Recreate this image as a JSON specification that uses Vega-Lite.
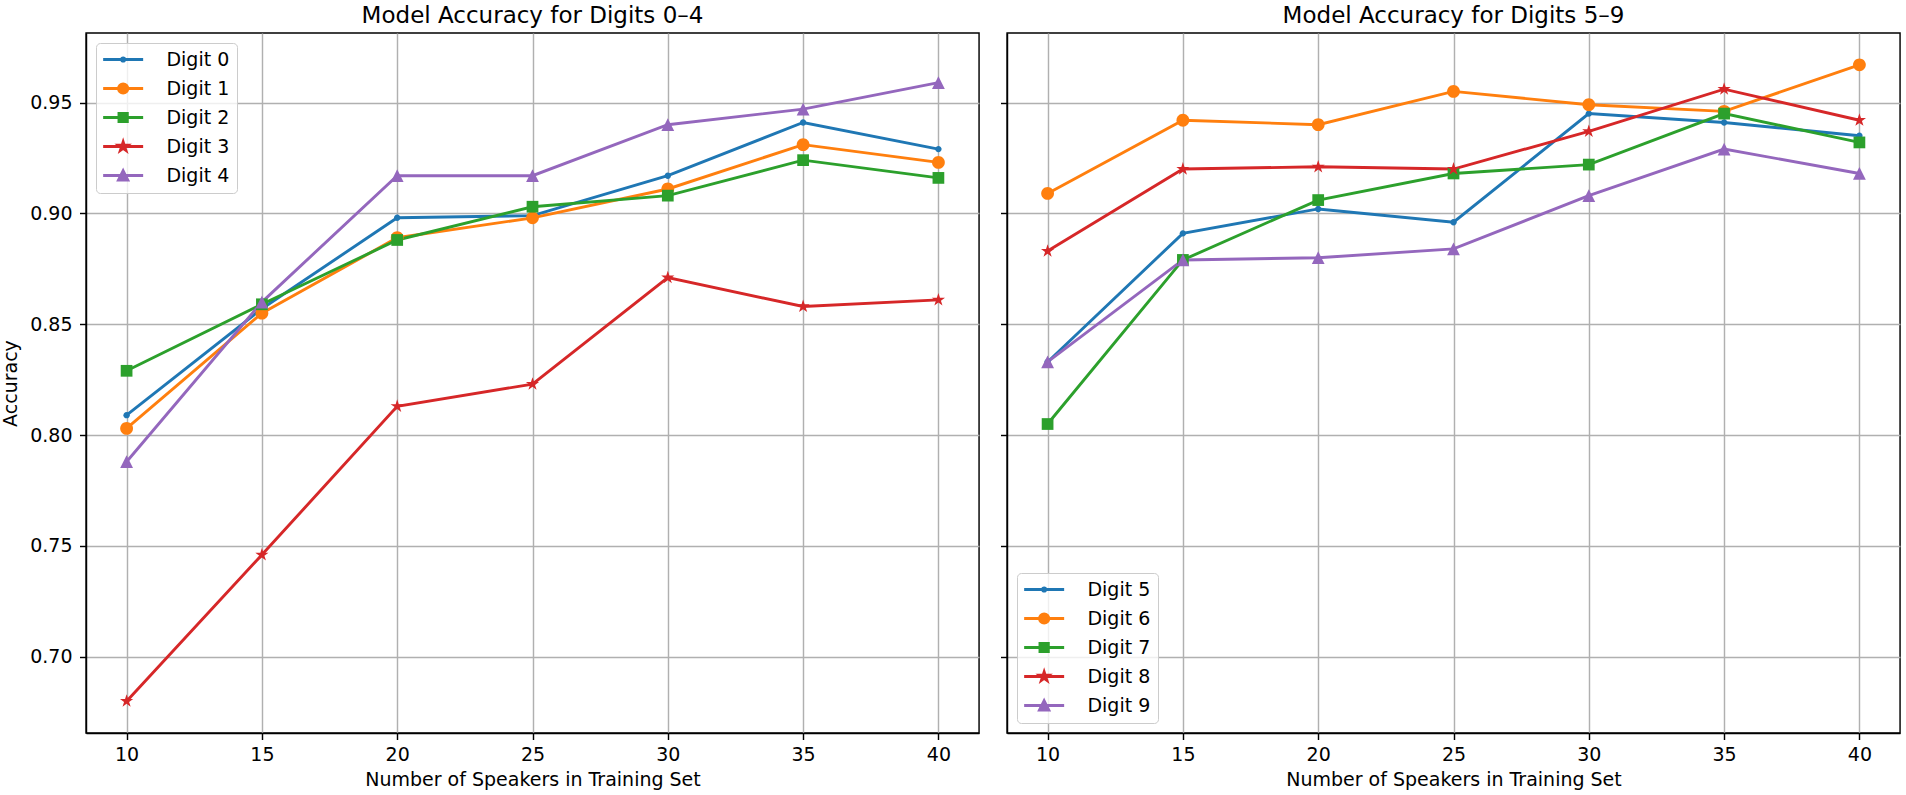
{
  "$schema": "https://vega.github.io/schema/vega-lite/v6.json",
  "background": "white",
  "padding": {"left": 0, "top": 4, "right": 2, "bottom": 2},
  "config": {
    "font": "DejaVu Sans",
    "view": {"stroke": "black", "strokeWidth": 1.44},
    "axis": {
      "labelFont": "DejaVu Sans", "titleFont": "DejaVu Sans",
      "labelFontSize": 19, "titleFontSize": 19, "titleFontWeight": "normal",
      "labelColor": "black", "titleColor": "black",
      "tickColor": "black", "domainColor": "black",
      "tickWidth": 1.44, "domainWidth": 1.44, "tickSize": 6.5,
      "gridColor": "#b0b0b0", "gridWidth": 1.44, "gridOpacity": 1,
      "labelFlush": false
    },
    "axisX": {"labelPadding": 5.5, "titlePadding": 6},
    "axisY": {"labelPadding": 7.5, "titlePadding": 9},
    "title": {"font": "DejaVu Sans", "fontSize": 23, "fontWeight": "normal", "color": "black", "offset": 5, "anchor": "middle"},
    "legend": {
      "labelFont": "DejaVu Sans", "labelFontSize": 19, "labelColor": "black",
      "fillColor": "rgba(255,255,255,0.8)", "strokeColor": "#cccccc", "cornerRadius": 4,
      "padding": 7, "rowPadding": 8, "labelOffset": 33.8, "symbolOffset": 10.65,
      "symbolSize": 256, "symbolStrokeWidth": 2.9, "symbolOpacity": 1
    }
  },
  "datasets": {
    "acc": [
      {"panel": "L", "digit": "Digit 0", "x": 10, "acc": 0.809},
      {"panel": "L", "digit": "Digit 0", "x": 15, "acc": 0.857},
      {"panel": "L", "digit": "Digit 0", "x": 20, "acc": 0.898},
      {"panel": "L", "digit": "Digit 0", "x": 25, "acc": 0.899},
      {"panel": "L", "digit": "Digit 0", "x": 30, "acc": 0.917},
      {"panel": "L", "digit": "Digit 0", "x": 35, "acc": 0.941},
      {"panel": "L", "digit": "Digit 0", "x": 40, "acc": 0.929},
      {"panel": "L", "digit": "Digit 1", "x": 10, "acc": 0.803},
      {"panel": "L", "digit": "Digit 1", "x": 15, "acc": 0.855},
      {"panel": "L", "digit": "Digit 1", "x": 20, "acc": 0.889},
      {"panel": "L", "digit": "Digit 1", "x": 25, "acc": 0.898},
      {"panel": "L", "digit": "Digit 1", "x": 30, "acc": 0.911},
      {"panel": "L", "digit": "Digit 1", "x": 35, "acc": 0.931},
      {"panel": "L", "digit": "Digit 1", "x": 40, "acc": 0.923},
      {"panel": "L", "digit": "Digit 2", "x": 10, "acc": 0.829},
      {"panel": "L", "digit": "Digit 2", "x": 15, "acc": 0.859},
      {"panel": "L", "digit": "Digit 2", "x": 20, "acc": 0.888},
      {"panel": "L", "digit": "Digit 2", "x": 25, "acc": 0.903},
      {"panel": "L", "digit": "Digit 2", "x": 30, "acc": 0.908},
      {"panel": "L", "digit": "Digit 2", "x": 35, "acc": 0.924},
      {"panel": "L", "digit": "Digit 2", "x": 40, "acc": 0.916},
      {"panel": "L", "digit": "Digit 3", "x": 10, "acc": 0.680},
      {"panel": "L", "digit": "Digit 3", "x": 15, "acc": 0.746},
      {"panel": "L", "digit": "Digit 3", "x": 20, "acc": 0.813},
      {"panel": "L", "digit": "Digit 3", "x": 25, "acc": 0.823},
      {"panel": "L", "digit": "Digit 3", "x": 30, "acc": 0.871},
      {"panel": "L", "digit": "Digit 3", "x": 35, "acc": 0.858},
      {"panel": "L", "digit": "Digit 3", "x": 40, "acc": 0.861},
      {"panel": "L", "digit": "Digit 4", "x": 10, "acc": 0.788},
      {"panel": "L", "digit": "Digit 4", "x": 15, "acc": 0.860},
      {"panel": "L", "digit": "Digit 4", "x": 20, "acc": 0.917},
      {"panel": "L", "digit": "Digit 4", "x": 25, "acc": 0.917},
      {"panel": "L", "digit": "Digit 4", "x": 30, "acc": 0.940},
      {"panel": "L", "digit": "Digit 4", "x": 35, "acc": 0.947},
      {"panel": "L", "digit": "Digit 4", "x": 40, "acc": 0.959},
      {"panel": "R", "digit": "Digit 5", "x": 10, "acc": 0.833},
      {"panel": "R", "digit": "Digit 5", "x": 15, "acc": 0.891},
      {"panel": "R", "digit": "Digit 5", "x": 20, "acc": 0.902},
      {"panel": "R", "digit": "Digit 5", "x": 25, "acc": 0.896},
      {"panel": "R", "digit": "Digit 5", "x": 30, "acc": 0.945},
      {"panel": "R", "digit": "Digit 5", "x": 35, "acc": 0.941},
      {"panel": "R", "digit": "Digit 5", "x": 40, "acc": 0.935},
      {"panel": "R", "digit": "Digit 6", "x": 10, "acc": 0.909},
      {"panel": "R", "digit": "Digit 6", "x": 15, "acc": 0.942},
      {"panel": "R", "digit": "Digit 6", "x": 20, "acc": 0.940},
      {"panel": "R", "digit": "Digit 6", "x": 25, "acc": 0.955},
      {"panel": "R", "digit": "Digit 6", "x": 30, "acc": 0.949},
      {"panel": "R", "digit": "Digit 6", "x": 35, "acc": 0.946},
      {"panel": "R", "digit": "Digit 6", "x": 40, "acc": 0.967},
      {"panel": "R", "digit": "Digit 7", "x": 10, "acc": 0.805},
      {"panel": "R", "digit": "Digit 7", "x": 15, "acc": 0.879},
      {"panel": "R", "digit": "Digit 7", "x": 20, "acc": 0.906},
      {"panel": "R", "digit": "Digit 7", "x": 25, "acc": 0.918},
      {"panel": "R", "digit": "Digit 7", "x": 30, "acc": 0.922},
      {"panel": "R", "digit": "Digit 7", "x": 35, "acc": 0.945},
      {"panel": "R", "digit": "Digit 7", "x": 40, "acc": 0.932},
      {"panel": "R", "digit": "Digit 8", "x": 10, "acc": 0.883},
      {"panel": "R", "digit": "Digit 8", "x": 15, "acc": 0.920},
      {"panel": "R", "digit": "Digit 8", "x": 20, "acc": 0.921},
      {"panel": "R", "digit": "Digit 8", "x": 25, "acc": 0.920},
      {"panel": "R", "digit": "Digit 8", "x": 30, "acc": 0.937},
      {"panel": "R", "digit": "Digit 8", "x": 35, "acc": 0.956},
      {"panel": "R", "digit": "Digit 8", "x": 40, "acc": 0.942},
      {"panel": "R", "digit": "Digit 9", "x": 10, "acc": 0.833},
      {"panel": "R", "digit": "Digit 9", "x": 15, "acc": 0.879},
      {"panel": "R", "digit": "Digit 9", "x": 20, "acc": 0.880},
      {"panel": "R", "digit": "Digit 9", "x": 25, "acc": 0.884},
      {"panel": "R", "digit": "Digit 9", "x": 30, "acc": 0.908},
      {"panel": "R", "digit": "Digit 9", "x": 35, "acc": 0.929},
      {"panel": "R", "digit": "Digit 9", "x": 40, "acc": 0.918}
    ]
  },
  "data": {"name": "acc"},
  "spacing": 19,
  "hconcat": [
    {
      "width": 893,
      "height": 700,
      "title": {"text": "Model Accuracy for Digits 0–4"},
      "transform": [{"filter": "datum.panel === 'L'"}],
      "encoding": {
        "x": {"field": "x", "type": "quantitative",
              "scale": {"domain": [8.5, 41.5], "nice": false, "zero": false},
              "axis": {"values": [10, 15, 20, 25, 30, 35, 40], "title": "Number of Speakers in Training Set", "grid": true}},
        "y": {"field": "acc", "type": "quantitative",
              "scale": {"domain": [0.66565, 0.98135], "nice": false, "zero": false},
              "axis": {"values": [0.7, 0.75, 0.8, 0.85, 0.9, 0.95], "format": ".2f", "title": "Accuracy", "grid": true}},
        "color": {"field": "digit", "type": "nominal",
                  "scale": {"domain": ["Digit 0", "Digit 1", "Digit 2", "Digit 3", "Digit 4"], "range": ["#1f77b4", "#ff7f0e", "#2ca02c", "#d62728", "#9467bd"]},
                  "legend": {"title": null, "orient": "top-left", "offset": 10}}
      },
      "layer": [
        {"mark": {"type": "line", "strokeWidth": 2.9}},
        {"transform": [{"filter": {"field": "digit", "equal": "Digit 0"}}],
         "mark": {"type": "point", "filled": true, "opacity": 1, "size": 455, "strokeWidth": 0, "shape": "M-0.3,0A0.3,0.3 0 1,0 0.3,0A0.3,0.3 0 1,0 -0.3,0Z"}},
        {"transform": [{"filter": {"field": "digit", "equal": "Digit 1"}}],
         "mark": {"type": "point", "filled": true, "opacity": 1, "size": 455, "strokeWidth": 0, "shape": "M-0.6,0A0.6,0.6 0 1,0 0.6,0A0.6,0.6 0 1,0 -0.6,0Z"}},
        {"transform": [{"filter": {"field": "digit", "equal": "Digit 2"}}],
         "mark": {"type": "point", "filled": true, "opacity": 1, "size": 455, "strokeWidth": 0, "shape": "M-0.55,-0.55L0.55,-0.55L0.55,0.55L-0.55,0.55Z"}},
        {"transform": [{"filter": {"field": "digit", "equal": "Digit 3"}}],
         "mark": {"type": "point", "filled": true, "opacity": 1, "size": 455, "strokeWidth": 0, "shape": "M0,-0.65L0.146,-0.201L0.618,-0.201L0.236,0.077L0.382,0.526L0,0.248L-0.382,0.526L-0.236,0.077L-0.618,-0.201L-0.146,-0.201Z"}},
        {"transform": [{"filter": {"field": "digit", "equal": "Digit 4"}}],
         "mark": {"type": "point", "filled": true, "opacity": 1, "size": 455, "strokeWidth": 0, "shape": "M0,-0.6L0.6,0.6L-0.6,0.6Z"}},
        {"mark": {"type": "point", "filled": true, "opacity": 0, "size": 1},
         "encoding": {
           "shape": {"field": "digit", "type": "nominal",
                     "scale": {"domain": ["Digit 0", "Digit 1", "Digit 2", "Digit 3", "Digit 4"],
                               "range": ["M-2.5,0L2.5,0M-0.206,0A0.206,0.206 0 1,0 0.206,0A0.206,0.206 0 1,0 -0.206,0Z", "M-2.5,0L2.5,0M-0.58,0A0.58,0.58 0 1,0 0.58,0A0.58,0.58 0 1,0 -0.58,0Z", "M-2.5,0L2.5,0M-0.52,-0.52L0.52,-0.52L0.52,0.52L-0.52,0.52Z", "M-2.5,0L2.5,0M0,-0.5625L0.126,-0.174L0.535,-0.174L0.204,0.066L0.331,0.455L0,0.215L-0.331,0.455L-0.204,0.066L-0.535,-0.174L-0.126,-0.174Z", "M-2.5,0L2.5,0M0,-0.58L0.58,0.58L-0.58,0.58Z"]},
                     "legend": {"title": null, "orient": "top-left", "offset": 10}}
         }}
      ]
    },
    {
      "width": 893,
      "height": 700,
      "title": {"text": "Model Accuracy for Digits 5–9"},
      "transform": [{"filter": "datum.panel === 'R'"}],
      "encoding": {
        "x": {"field": "x", "type": "quantitative",
              "scale": {"domain": [8.5, 41.5], "nice": false, "zero": false},
              "axis": {"values": [10, 15, 20, 25, 30, 35, 40], "title": "Number of Speakers in Training Set", "grid": true}},
        "y": {"field": "acc", "type": "quantitative",
              "scale": {"domain": [0.66565, 0.98135], "nice": false, "zero": false},
              "axis": {"values": [0.7, 0.75, 0.8, 0.85, 0.9, 0.95], "labels": false, "title": null, "grid": true}},
        "color": {"field": "digit", "type": "nominal",
                  "scale": {"domain": ["Digit 5", "Digit 6", "Digit 7", "Digit 8", "Digit 9"], "range": ["#1f77b4", "#ff7f0e", "#2ca02c", "#d62728", "#9467bd"]},
                  "legend": {"title": null, "orient": "bottom-left", "offset": 10}}
      },
      "layer": [
        {"mark": {"type": "line", "strokeWidth": 2.9}},
        {"transform": [{"filter": {"field": "digit", "equal": "Digit 5"}}],
         "mark": {"type": "point", "filled": true, "opacity": 1, "size": 455, "strokeWidth": 0, "shape": "M-0.3,0A0.3,0.3 0 1,0 0.3,0A0.3,0.3 0 1,0 -0.3,0Z"}},
        {"transform": [{"filter": {"field": "digit", "equal": "Digit 6"}}],
         "mark": {"type": "point", "filled": true, "opacity": 1, "size": 455, "strokeWidth": 0, "shape": "M-0.6,0A0.6,0.6 0 1,0 0.6,0A0.6,0.6 0 1,0 -0.6,0Z"}},
        {"transform": [{"filter": {"field": "digit", "equal": "Digit 7"}}],
         "mark": {"type": "point", "filled": true, "opacity": 1, "size": 455, "strokeWidth": 0, "shape": "M-0.55,-0.55L0.55,-0.55L0.55,0.55L-0.55,0.55Z"}},
        {"transform": [{"filter": {"field": "digit", "equal": "Digit 8"}}],
         "mark": {"type": "point", "filled": true, "opacity": 1, "size": 455, "strokeWidth": 0, "shape": "M0,-0.65L0.146,-0.201L0.618,-0.201L0.236,0.077L0.382,0.526L0,0.248L-0.382,0.526L-0.236,0.077L-0.618,-0.201L-0.146,-0.201Z"}},
        {"transform": [{"filter": {"field": "digit", "equal": "Digit 9"}}],
         "mark": {"type": "point", "filled": true, "opacity": 1, "size": 455, "strokeWidth": 0, "shape": "M0,-0.6L0.6,0.6L-0.6,0.6Z"}},
        {"mark": {"type": "point", "filled": true, "opacity": 0, "size": 1},
         "encoding": {
           "shape": {"field": "digit", "type": "nominal",
                     "scale": {"domain": ["Digit 5", "Digit 6", "Digit 7", "Digit 8", "Digit 9"],
                               "range": ["M-2.5,0L2.5,0M-0.206,0A0.206,0.206 0 1,0 0.206,0A0.206,0.206 0 1,0 -0.206,0Z", "M-2.5,0L2.5,0M-0.58,0A0.58,0.58 0 1,0 0.58,0A0.58,0.58 0 1,0 -0.58,0Z", "M-2.5,0L2.5,0M-0.52,-0.52L0.52,-0.52L0.52,0.52L-0.52,0.52Z", "M-2.5,0L2.5,0M0,-0.5625L0.126,-0.174L0.535,-0.174L0.204,0.066L0.331,0.455L0,0.215L-0.331,0.455L-0.204,0.066L-0.535,-0.174L-0.126,-0.174Z", "M-2.5,0L2.5,0M0,-0.58L0.58,0.58L-0.58,0.58Z"]},
                     "legend": {"title": null, "orient": "bottom-left", "offset": 10}}
         }}
      ]
    }
  ],
  "resolve": {
    "scale": {"x": "independent", "y": "independent", "color": "independent", "shape": "independent"},
    "axis": {"x": "independent", "y": "independent"},
    "legend": {"color": "independent", "shape": "independent"}
  }
}
